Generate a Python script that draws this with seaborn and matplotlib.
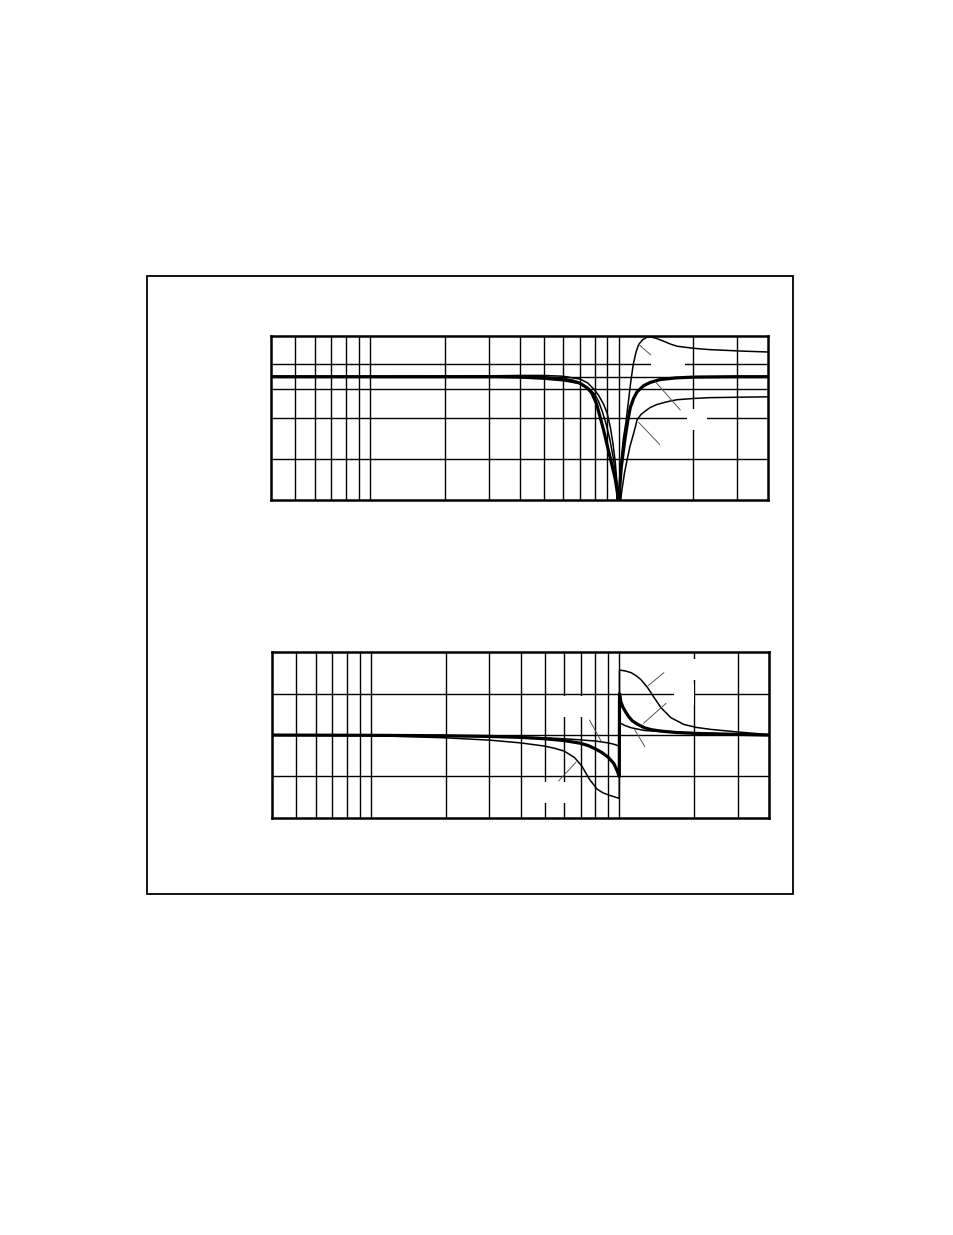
import matplotlib
matplotlib.use("Agg")
import matplotlib.pyplot as plt
import seaborn as sns
import pandas as pd
from matplotlib.patches import Rectangle

# ---------------------------------------------------------------------------
# Données (fréquence normalisée, gain en dB, phase en °)
# ---------------------------------------------------------------------------
freq_n = [0.4, 1, 2, 3, 4, 5, 6, 6.5, 7, 7.5, 7.8, 8.14, 8.44, 8.7, 9.1,
          9.4, 9.7, 9.9, 10, 10.1, 10.25, 10.45, 10.64, 10.9, 11.14, 11.5,
          11.86, 12.6, 13.4, 14.7, 17, 20, 30, 40]
gain_n = [0, 0, 0, 0, 0, -0.2, -0.6, -1.0, -1.6, -2.8, -4.0, -6.5, -10.0,
          -13.0, -18.0, -21.5, -25.0, -28.5, -45, -27.0, -22.0, -18.0, -14.5,
          -10.5, -7.5, -5.2, -3.7, -2.2, -1.4, -0.7, -0.3, -0.1, 0, 0]

freq_p = [0.4, 1, 2, 3, 4, 5, 6, 7, 7.5, 8, 8.3, 8.6, 8.9, 9.2, 9.5, 9.75,
          9.9, 10, 10.1, 10.25, 10.45, 10.7, 10.95, 11.2, 11.45, 11.75,
          12.03, 12.5, 13.0, 13.4, 14.2, 15.2, 16.2, 17.2, 20, 23, 27, 32, 40]
gain_p = [0, 0, 0, -0.1, -0.3, -0.6, -1.0, -1.7, -2.6, -4.2, -6.0, -8.5,
          -11.5, -15.0, -19.5, -24.0, -28.0, -45, -27.0, -20.0, -15.0, -11.0,
          -6.0, -1.0, 3.0, 6.0, 7.8, 9.0, 9.6, 9.7, 9.3, 8.6, 7.9, 7.4, 6.9,
          6.6, 6.4, 6.2, 6.0]

freq_l = [0.4, 1, 2, 3, 4, 5, 6, 7, 7.5, 7.94, 8.3, 8.7, 9.0, 9.26, 9.5,
          9.7, 9.85, 10, 10.1, 10.3, 10.55, 10.8, 11.1, 11.4, 11.7, 11.86,
          12.3, 12.9, 13.4, 14.2, 15.2, 16.2, 17.2, 20, 23.3, 30, 40]
gain_l = [0, 0, 0.1, 0.2, 0.3, 0.3, 0.1, -0.6, -1.5, -3.0, -4.5, -6.7,
          -9.0, -12.3, -16.5, -21.0, -26.0, -45, -32.0, -27.7, -23.5, -20.4,
          -17.0, -14.5, -12.0, -10.5, -9.2, -8.2, -7.5, -6.8, -6.3, -5.9,
          -5.6, -5.3, -5.1, -5.0, -4.9]

freq_ph_n = [0.4, 1, 2, 3, 4, 5, 6, 7, 7.5, 8, 8.5, 9, 9.5, 9.8, 9.99,
             10.01, 10.16, 10.35, 10.64, 10.9, 11.3, 11.8, 12.6, 13.5, 14.7,
             17, 20, 30, 40]
phase_n = [0, -0.5, -1.5, -3, -5, -8, -12, -18, -23, -30, -38, -48, -62,
           -78, -90, 90, 70.6, 60, 48.8, 40, 30.5, 24, 16, 11.5, 8.7, 5.5,
           3.7, 1.5, 0]

freq_ph_a = [0.4, 1, 2, 3, 4, 5, 5.5, 6, 6.6, 7.06, 7.58, 8.14, 8.6, 9.1,
             9.6, 9.99, 10.01, 10.5, 11.14, 11.7, 12.2, 13.0, 13.8, 14.7,
             16.1, 18.2, 20.5, 23.3, 30.3, 40]
phase_a = [0, -1, -6, -11, -17, -24, -29, -35, -49, -67.5, -96.5, -118,
           -126, -131, -135, -138, 141.6, 140, 136, 129, 121, 103, 81.5,
           59.7, 38, 23, 16.5, 12.4, 6.5, 1]

freq_ph_b = [0.4, 1, 2, 3, 4, 5, 6, 7, 8, 8.5, 9, 9.5, 9.99,
             10.01, 10.5, 11.14, 12.6, 15, 17.2, 23.3, 30, 40]
phase_b = [0, -0.5, -1.5, -3, -4.5, -6, -8, -10.5, -13, -15, -17, -20,
           -24, 27, 21, 16, 10, 7.5, 6.5, 3.7, 1.5, 0]

# grille
grid_freqs = [0.5, 0.6, 0.7, 0.8, 0.9, 1, 2, 3, 4, 5, 6, 7, 8, 9, 10, 20, 30]
grid_gain = [-20, -10, -3, 0, 3]
grid_phase = [-90, 0, 90]

# étiquettes (non lisibles sur l'original : texte blanc sur fond blanc)
labels_mag = ["HPN", "N", "LPN"]
labels_ph = ["HPN", "N", "LPN", "HPN", "LPN"]


def preparer_axe(ax, ylim, yticks):
    ax.set_xscale("log")
    ax.set_xlim(0.4, 40)
    ax.set_ylim(*ylim)
    ax.set_xticks(grid_freqs)
    ax.set_xticks([], minor=True)
    ax.set_yticks(yticks)
    ax.set_xticklabels([])
    ax.set_yticklabels([])
    ax.tick_params(length=0, which="both")
    ax.grid(True, color="black", linewidth=1.0)
    for sp in ax.spines.values():
        sp.set_color("black")
        sp.set_linewidth(1.8)


def tracer(ax, x, y, lw):
    df = pd.DataFrame({"f": x, "v": y})
    sns.lineplot(data=df, x="f", y="v", ax=ax, color="black", linewidth=lw,
                 estimator=None, sort=False)
    ax.set_xlabel("")
    ax.set_ylabel("")


def etiquette(ax, texte, xy, xytext, xlabel, fs=8):
    ax.annotate("", xy=xy, xytext=xytext,
                arrowprops=dict(arrowstyle="-", lw=0.7, color="#555555",
                                shrinkA=0, shrinkB=0))
    ax.text(xlabel[0], xlabel[1], texte, color="white", fontsize=fs,
            ha="center", va="center", zorder=5,
            bbox=dict(facecolor="white", edgecolor="none", pad=4))


sns.set_style("white")
plt.rcParams["font.family"] = ["DejaVu Sans"]

fig = plt.figure(figsize=(9.54, 12.35), dpi=100)
ax_mag = fig.add_axes([0.2841, 0.5951, 0.5213, 0.1332])
ax_ph = fig.add_axes([0.2851, 0.3379, 0.5210, 0.1338])

preparer_axe(ax_mag, (-30, 10), grid_gain)
preparer_axe(ax_ph, (-180, 180), grid_phase)

tracer(ax_mag, freq_p, gain_p, 1.1)
tracer(ax_mag, freq_l, gain_l, 1.1)
tracer(ax_mag, freq_n, gain_n, 2.3)

tracer(ax_ph, freq_ph_a, phase_a, 1.1)
tracer(ax_ph, freq_ph_b, phase_b, 1.1)
tracer(ax_ph, freq_ph_n, phase_n, 2.3)

# repères d'étiquettes
etiquette(ax_mag, labels_mag[0], (12.03, 7.85), (13.49, 5.25), (15.8, 3.15))
etiquette(ax_mag, labels_mag[1], (14.04, -1.2), (17.7, -8.1), (20.7, -10.5))
etiquette(ax_mag, labels_mag[2], (12.03, -11.1), (14.8, -16.8), (16.9, -16.8),
          fs=7)

etiquette(ax_ph, labels_ph[0], (13.0, 106.8), (15.1, 136), (19.0, 143))
etiquette(ax_ph, labels_ph[1], (12.5, 25.5), (15.4, 69), (18.2, 88))
etiquette(ax_ph, labels_ph[2], (11.5, 12.4), (12.8, -29.6), (13.4, -48))
etiquette(ax_ph, labels_ph[3], (6.70, -58.8), (5.69, -100), (5.83, -125))
etiquette(ax_ph, labels_ph[4], (8.44, -13), (7.58, 32.7), (6.52, 62))

# cadre extérieur
fig.add_artist(Rectangle((147.3 / 954, (1235 - 893.7) / 1235),
                         (793.3 - 147.3) / 954, (893.7 - 276) / 1235,
                         transform=fig.transFigure, fill=False,
                         linewidth=1.3, edgecolor="black"))

fig.savefig("out.png", dpi=100)
plt.close(fig)
